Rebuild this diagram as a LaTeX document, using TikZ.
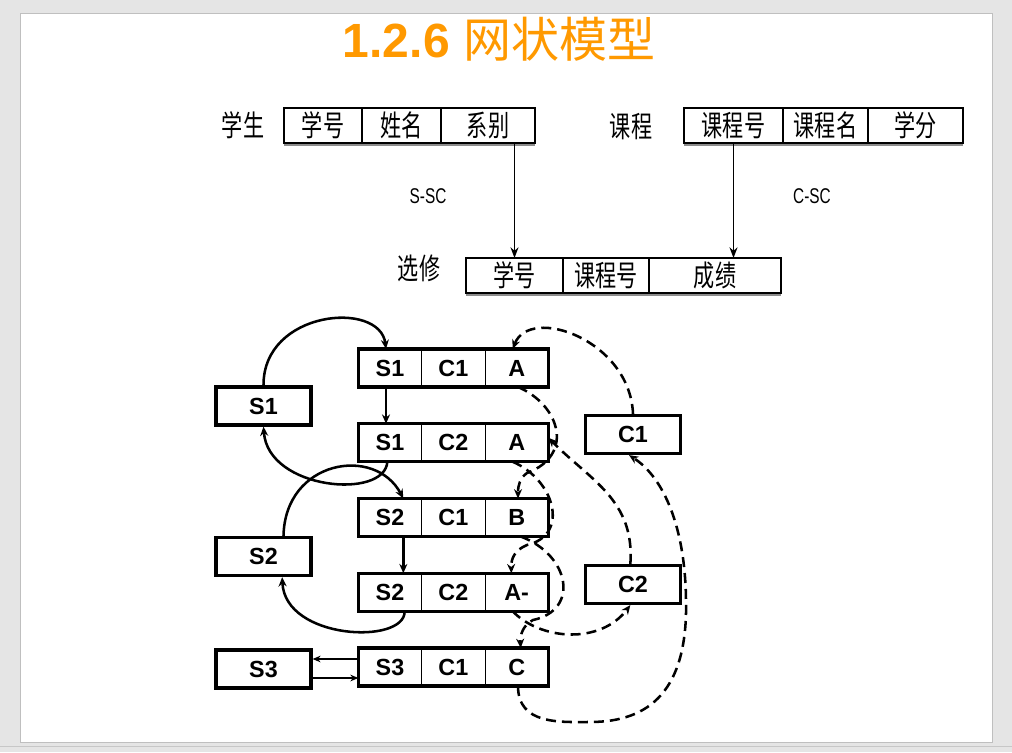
\documentclass[tikz,border=0pt]{standalone}
\usepackage{fontspec}
\usepackage{graphicx}
\setmainfont{Liberation Sans}
\newfontfamily\cjk{Noto Sans CJK SC}
\usetikzlibrary{positioning,arrows.meta}
\colorlet{slideBackgroundColour}{black!10}
\definecolor{titleColour}{RGB}{255,153,0}
\newcommand{\squeeze}[1]{\scalebox{0.72}[1]{#1}}
\tikzset{
	field/.style={draw,line width=1pt,minimum height=26.25pt,inner sep=0pt,outer sep=0pt,font=\cjk\fontsize{22}{24}\selectfont},
	tag/.style={font=\cjk\fontsize{22}{24}\selectfont},
	cell/.style={draw,line width=.75pt,minimum width=47.5pt,minimum height=28.5pt,inner sep=0pt,outer sep=0pt,font=\bfseries\fontsize{17.5}{20}\selectfont},
	owner/.style={draw,line width=2.4pt,minimum width=71.25pt,minimum height=28.5pt,inner sep=0pt,font=\bfseries\fontsize{17.5}{20}\selectfont},
	slink/.style={line width=1.9pt,-{Stealth[length=7pt,width=6pt]}},
	clink/.style={slink,dash pattern=on 7.5pt off 4.5pt},
}
\begin{document}
\begin{tikzpicture}[x=.75pt,y=-.75pt]
\useasboundingbox (0,0) rectangle (1012,752);
\fill[slideBackgroundColour] (0,0) rectangle (1012,752);
\draw[fill=white,draw=black!25] (20,13) rectangle (992,742);
\draw[black!22] (0,746) -- (1012,746);
% title
\node[anchor=base,text=titleColour,font=\fontsize{36}{40}\selectfont] (title) at (499,58) {\bfseries 1.2.6 {\cjk\mdseries 网状模型}};
% record types
\node[tag] (lbl s) at (243,125) {\squeeze{学生}};
\node[field,minimum width=58.5pt] (f s 1) at (323,125.5) {\squeeze{学号}};
\node[field,minimum width=59.25pt,right=0pt of f s 1] (f s 2) {\squeeze{姓名}};
\node[field,minimum width=70.5pt,right=0pt of f s 2] (f s 3) {\squeeze{系别}};
\node[tag] (lbl c) at (631,127) {\squeeze{课程}};
\node[field,minimum width=74.25pt] (f c 1) at (733.5,125.5) {\squeeze{课程号}};
\node[field,minimum width=63.75pt,right=0pt of f c 1] (f c 2) {\squeeze{课程名}};
\node[field,minimum width=71.25pt,right=0pt of f c 2] (f c 3) {\squeeze{学分}};
\node[tag] (lbl x) at (419,268) {\squeeze{选修}};
\node[field,minimum width=72.75pt] (f x 1) at (514.5,275.5) {\squeeze{学号}};
\node[field,minimum width=64.5pt,right=0pt of f x 1] (f x 2) {\squeeze{课程号}};
\node[field,minimum width=99pt,right=0pt of f x 2] (f x 3) {\squeeze{成绩}};
\draw[black!45,line width=1.5pt] ([yshift=-1.5pt]f s 1.south west) -- ([yshift=-1.5pt]f s 3.south east);
\draw[black!45,line width=1.5pt] ([yshift=-1.5pt]f c 1.south west) -- ([yshift=-1.5pt]f c 3.south east);
\draw[black!45,line width=1.5pt] ([yshift=-1.5pt]f x 1.south west) -- ([yshift=-1.5pt]f x 3.south east);
\draw[line width=1.1pt,-{Stealth[length=8pt,width=6pt]}] (f x 1.north |- f s 3.south) -- (f x 1.north);
\draw[line width=1.1pt,-{Stealth[length=8pt,width=6pt]}] (f c 1.south) -- (f c 1.south |- f x 3.north);
\node[font=\fontsize{16}{18}\selectfont] (set s) at (428,196) {\squeeze{S-SC}};
\node[font=\fontsize{16}{18}\selectfont] (set c) at (812,196) {\squeeze{C-SC}};
% occurrences
\node[owner] (stud 1) at (263.5,406) {S1};
\node[owner] (stud 2) at (263.5,556.5) {S2};
\node[owner] (stud 3) at (263.5,669) {S3};
\node[owner] (cour 1) at (633,434.5) {C1};
\node[owner] (cour 2) at (633,584.5) {C2};
\foreach \i/\s/\c/\g in {1/S1/C1/A,2/S1/C2/A,3/S2/C1/B,4/S2/C2/A-,5/S3/C1/C}
{%
	\node[cell] (sno \i) at (390,{368+(\i-1)*74.75}) {\s};
	\node[cell,right=0pt of sno \i] (cno \i) {\c};
	\node[cell,right=0pt of cno \i] (grade \i) {\g};
	\draw[line width=2.4pt] (sno \i.north west) rectangle (grade \i.south east);
}%
% S-SC chains
\draw[slink] (stud 1.north) .. controls (263,310) and (380,300) .. ([xshift=-3pt]sno 1.north);
\draw[slink] ([xshift=-3pt]sno 1.south) -- ([xshift=-3pt]sno 2.north);
\draw[slink] ([xshift=-2pt]sno 2.south) .. controls (385,500) and (268,490) .. (stud 1.south);
\draw[slink] ([xshift=15pt]stud 2.north) .. controls (285,460) and (375,445) .. ([xshift=10pt]sno 3.north);
\draw[slink] ([xshift=10pt]sno 3.south) -- ([xshift=10pt]sno 4.north);
\draw[slink] ([xshift=11pt]sno 4.south) .. controls (405,645) and (285,640) .. ([xshift=14pt]stud 2.south);
\draw[line width=1.2pt,-{Stealth[length=6pt,width=5pt]}] ([yshift=6pt]sno 5.west) -- ([yshift=6pt]sno 5.west -| stud 3.east);
\draw[line width=1.2pt,-{Stealth[length=6pt,width=5pt]}] ([yshift=-6.75pt]stud 3.east) -- ([yshift=-6.75pt]stud 3.east -| sno 5.west);
% C-SC chains
\draw[clink] (cour 1.north) .. controls (630,340) and (530,305) .. ([xshift=-3pt]grade 1.north);
\draw[clink] ([xshift=1pt]grade 1.south) .. controls (560,405) and (575,455) .. (527,473) .. controls (520,478) and (518,485) .. ([xshift=1pt]grade 3.north);
\draw[clink] ([xshift=3pt]grade 3.south) .. controls (570,555) and (580,610) .. (533,620) .. controls (523,625) and (520,635) .. ([xshift=3pt]grade 5.north);
\draw[clink] ([xshift=1pt]grade 5.south) .. controls (518,725) and (560,722) .. (590,722) .. controls (650,722) and (688,690) .. (686,600) .. controls (685,520) and (660,475) .. ([xshift=-3pt]cour 1.south);
\draw[clink] ([xshift=-2pt]cour 2.north) .. controls (635,500) and (590,480) .. ([yshift=3.75pt]grade 2.east);
\draw[clink] ([xshift=-3pt]grade 2.south) .. controls (555,480) and (570,535) .. (527,545) .. controls (515,550) and (511,558) .. ([xshift=-4pt]grade 4.north);
\draw[clink] ([xshift=-3pt]grade 4.south) .. controls (540,640) and (600,645) .. ([xshift=-2pt]cour 2.south);
\end{tikzpicture}
\end{document}
